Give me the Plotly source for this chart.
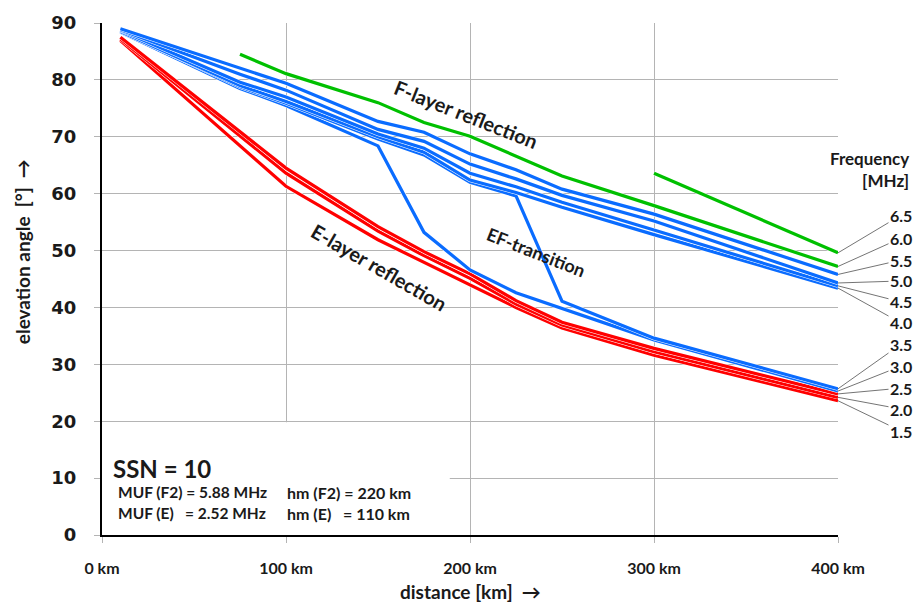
import plotly.graph_objects as go

# ---------------- data ----------------
distance_km = [10, 75, 100, 150, 175, 200, 225, 250, 300, 400]
x_tick_vals = [0, 100, 200, 300, 400]
x_tick_text = ["0 km", "100 km", "200 km", "300 km", "400 km"]
y_tick_vals = [0, 10, 20, 30, 40, 50, 60, 70, 80, 90]

freq_6_5 = [None, None, None, None, None, None, None, None, 63.6, 49.6]
freq_6_0 = [None, 84.5, 81.1, 76.0, 72.5, 70.1, 66.6, 63.1, 57.9, 47.2]
freq_5_5 = [89.0, 82.0, 79.4, 72.7, 70.8, 67.0, 64.2, 60.8, 56.4, 45.8]
freq_5_0 = [88.8, 81.0, 78.2, 71.3, 69.2, 65.2, 62.6, 59.7, 55.2, 44.3]
freq_4_5 = [88.7, 79.6, 77.0, 70.5, 68.0, 63.6, 61.2, 58.5, 53.6, 43.8]
freq_4_0 = [88.5, 79.0, 76.2, 70.0, 67.3, 62.4, 60.2, 57.6, 52.8, 43.4]
freq_3_5 = [88.6, 78.8, 75.9, 69.6, 66.8, 62.0, 59.6, 41.1, 34.6, 25.7]
freq_3_0 = [88.4, 78.5, 75.5, 68.4, 53.2, 46.6, 42.6, 39.8, 34.3, 25.3]
freq_2_5 = [87.5, 70.8, 64.5, 54.2, 49.8, 45.9, 41.2, 37.4, 32.8, 24.8]
freq_2_0 = [87.2, 70.1, 63.6, 53.4, 49.1, 45.1, 40.6, 36.9, 32.2, 24.2]
freq_1_5 = [86.9, 68.5, 61.3, 51.9, 47.9, 44.0, 40.0, 36.4, 31.6, 23.6]

freq_labels = ["6.5", "6.0", "5.5", "5.0", "4.5", "4.0", "3.5", "3.0", "2.5", "2.0", "1.5"]
freq_values = [freq_6_5, freq_6_0, freq_5_5, freq_5_0, freq_4_5, freq_4_0,
               freq_3_5, freq_3_0, freq_2_5, freq_2_0, freq_1_5]
freq_layer = ["none", "none", "F", "F", "F", "F", "F", "F", "E", "E", "E"]

ssn = 10
muf_f2, hm_f2 = 5.88, 220
muf_e, hm_e = 2.52, 110

# ---------------- styling ----------------
W, H = 914, 610
L, R, T, B = 102, 76, 19, 75
PW, PH = W - L - R, H - T - B
GREEN, BLUE, RED = "#00C000", "#0A6CFF", "#FF0000"
layer_color = {"none": GREEN, "F": BLUE, "E": RED}
FONT = "Lato, 'Open Sans', sans-serif"
GRID = "#B4B4B4"
TXT = "#1a1a1a"


def px(xp):
    return (xp - L) / PW


def py(yp):
    return (H - B - yp) / PH


fig = go.Figure()

# draw in reverse so higher frequencies end on top (white casing + colour)
for lab, vals, lay in reversed(list(zip(freq_labels, freq_values, freq_layer))):
    fig.add_trace(go.Scatter(x=distance_km, y=vals, mode="lines",
                             line=dict(color="white", width=4.2),
                             showlegend=False, hoverinfo="skip"))
    fig.add_trace(go.Scatter(x=distance_km, y=vals, mode="lines", name=lab + " MHz",
                             line=dict(color=layer_color[lay], width=3.2),
                             showlegend=False))

annotations = []

# frequency labels with leader lines
label_px_y = [213, 236, 258, 279, 300, 321, 343, 365, 387, 408, 430]
y_max = y_tick_vals[-1]
for lab, vals, lpy in zip(freq_labels, freq_values, label_px_y):
    v = vals[-1]
    end_py = H - B - v * PH / y_max
    annotations.append(dict(
        x=distance_km[-1], y=v, xref="x", yref="y", text="<b>%s</b>" % lab,
        showarrow=True, arrowhead=0, arrowwidth=0.8, arrowcolor="#505050",
        ax=63, ay=lpy - end_py, standoff=0, startstandoff=0,
        font=dict(family=FONT, size=16, color=TXT)))

annotations.append(dict(x=px(911), y=py(167), xref="paper", yref="paper",
                        text="<b>Frequency</b><br><b>[MHz]</b>", showarrow=False,
                        xanchor="right", yanchor="middle", align="right",
                        font=dict(family=FONT, size=17, color=TXT)))

# curve annotations
annotations += [
    dict(x=px(466), y=py(111), xref="paper", yref="paper", text="<b>F-layer reflection</b>",
         showarrow=False, textangle=21.5, xanchor="center", yanchor="middle",
         font=dict(family=FONT, size=20, color=TXT)),
    dict(x=px(379), y=py(265), xref="paper", yref="paper", text="<b>E-layer reflection</b>",
         showarrow=False, textangle=30, xanchor="center", yanchor="middle",
         font=dict(family=FONT, size=20, color=TXT)),
    dict(x=px(536), y=py(250), xref="paper", yref="paper", text="<b>EF-transition</b>",
         showarrow=False, textangle=21.5, xanchor="center", yanchor="middle",
         font=dict(family=FONT, size=18, color=TXT)),
]

# info box text
annotations += [
    dict(x=px(111), y=py(468), xref="paper", yref="paper", text="<b>SSN = %d</b>" % ssn,
         showarrow=False, xanchor="left", yanchor="middle",
         font=dict(family=FONT, size=24, color=TXT)),
    dict(x=px(116), y=py(492), xref="paper", yref="paper",
         text="<b>MUF (F2) = %.2f MHz</b>" % muf_f2, showarrow=False,
         xanchor="left", yanchor="middle", font=dict(family=FONT, size=15.5, color=TXT)),
    dict(x=px(116), y=py(513), xref="paper", yref="paper",
         text="<b>MUF (E)\u00a0\u00a0 = %.2f MHz</b>" % muf_e, showarrow=False,
         xanchor="left", yanchor="middle", font=dict(family=FONT, size=15.5, color=TXT)),
    dict(x=px(285), y=py(492), xref="paper", yref="paper",
         text="<b>hm (F2) = %d km</b>" % hm_f2, showarrow=False,
         xanchor="left", yanchor="middle", font=dict(family=FONT, size=16, color=TXT)),
    dict(x=px(285), y=py(513), xref="paper", yref="paper",
         text="<b>hm (E)\u00a0\u00a0 = %d km</b>" % hm_e, showarrow=False,
         xanchor="left", yanchor="middle", font=dict(family=FONT, size=16, color=TXT)),
]

# axis titles
annotations += [
    dict(x=px(470), y=py(592), xref="paper", yref="paper", text="<b>distance [km]  \u2192</b>",
         showarrow=False, xanchor="center", yanchor="middle",
         font=dict(family=FONT, size=19, color=TXT)),
    dict(x=px(22), y=py(250), xref="paper", yref="paper",
         text="<b>elevation angle  [°]  \u2192</b>", showarrow=False, textangle=-90,
         xanchor="center", yanchor="middle",
         font=dict(family=FONT, size=19, color=TXT)),
]

fig.update_layout(
    width=W, height=H,
    margin=dict(l=L, r=R, t=T, b=B, pad=0),
    paper_bgcolor="white", plot_bgcolor="white",
    showlegend=False,
    annotations=annotations,
    shapes=[dict(type="rect", xref="x", yref="y", x0=0, x1=189, y0=0, y1=19.8,
                 fillcolor="white", line=dict(width=0), layer="between")],
    xaxis=dict(range=[0, 400], tickvals=x_tick_vals, ticktext=x_tick_text,
               showgrid=True, gridcolor=GRID, gridwidth=1.3, zeroline=False,
               showline=True, linecolor="black", linewidth=2,
               ticks="outside", ticklen=6, tickcolor=GRID, tickwidth=1.3,
               ticklabelstandoff=12,
               tickfont=dict(family=FONT, size=16, color=TXT, weight="bold")),
    yaxis=dict(range=[0, 90], tickvals=y_tick_vals,
               showgrid=True, gridcolor=GRID, gridwidth=1.3, zeroline=False,
               showline=True, linecolor="black", linewidth=2,
               ticks="outside", ticklen=6, tickcolor=GRID, tickwidth=1.3,
               ticklabelstandoff=14,
               tickfont=dict(family="'DejaVu Sans', sans-serif", size=18, color=TXT,
                             weight="bold")),
)

fig.write_html("out.html",
               config={"displayModeBar": False},
               post_script="document.body.style.margin='0px';"
                           "document.body.style.overflow='hidden';")
